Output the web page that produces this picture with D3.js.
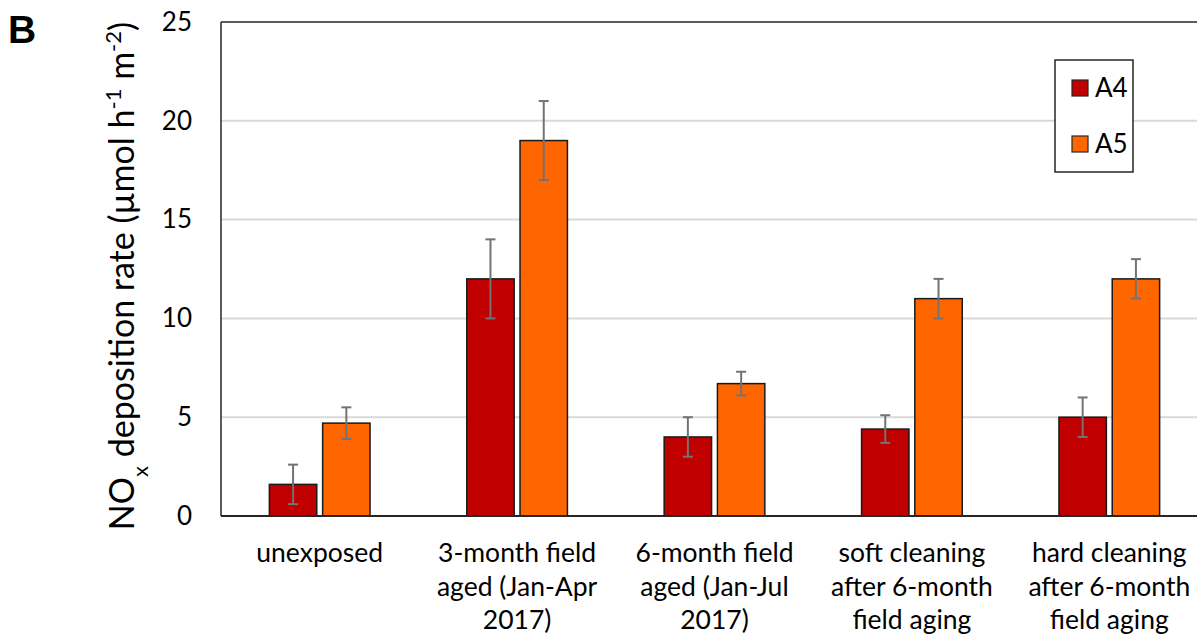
<!DOCTYPE html>
<html>
<head>
<meta charset="utf-8">
<script src="https://cdn.jsdelivr.net/npm/d3@7"></script>
<style>
  html, body { margin: 0; padding: 0; background: #fff; }
  svg { display: block; }
  text { font-family: Lato, "Open Sans", sans-serif; fill: #000; }
</style>
</head>
<body>
<svg id="chart" width="1197" height="638"></svg>
<script>
// Category labels (multi-line)
const categories = [
  ["unexposed"],
  ["3-month field", "aged (Jan-Apr", "2017)"],
  ["6-month field", "aged (Jan-Jul", "2017)"],
  ["soft cleaning", "after 6-month", "field aging"],
  ["hard cleaning", "after 6-month", "field aging"]
];
const seriesNames = ["A4", "A5"];
const seriesColors = ["#C00000", "#FF6600"];
// Mean NOx deposition rates
const valuesA4 = [1.6, 12, 4, 4.4, 5];
const valuesA5 = [4.7, 19, 6.7, 11, 12];
// Error bar half-widths
const errA4 = [1.0, 2.0, 1.0, 0.7, 1.0];
const errA5 = [0.8, 2.0, 0.6, 1.0, 1.0];
const yTicks = [0, 5, 10, 15, 20, 25];

const svg = d3.select("#chart");
const plot = { left: 221, right: 1208, top: 22, bottom: 516 };

const x0 = d3.scaleBand()
  .domain(d3.range(categories.length))
  .range([plot.left, plot.right])
  .paddingInner(0).paddingOuter(0);
const x1 = d3.scaleBand()
  .domain(seriesNames)
  .range([x0.bandwidth() * 0.245, x0.bandwidth() * 0.755])
  .paddingInner(0.11).paddingOuter(0);
const y = d3.scaleLinear().domain([0, 25]).range([plot.bottom, plot.top]);

// Gridlines
svg.append("g")
  .selectAll("line")
  .data(yTicks.filter(t => t > 0 && t < 25))
  .join("line")
  .attr("x1", plot.left).attr("x2", plot.right)
  .attr("y1", d => y(d)).attr("y2", d => y(d))
  .attr("stroke", "#d9d9d9").attr("stroke-width", 2);

// Bars
const data = [];
categories.forEach((c, i) => {
  data.push({ i, s: "A4", v: valuesA4[i], e: errA4[i], color: seriesColors[0] });
  data.push({ i, s: "A5", v: valuesA5[i], e: errA5[i], color: seriesColors[1] });
});

svg.append("g")
  .selectAll("rect")
  .data(data)
  .join("rect")
  .attr("x", d => x0(d.i) + x1(d.s))
  .attr("y", d => y(d.v))
  .attr("width", x1.bandwidth())
  .attr("height", d => y(0) - y(d.v))
  .attr("fill", d => d.color)
  .attr("stroke", "#1a1a1a")
  .attr("stroke-width", 1.5);

// Error bars
const eb = svg.append("g").attr("stroke", "#737373").attr("stroke-width", 2);
data.forEach(d => {
  const cx = x0(d.i) + x1(d.s) + x1.bandwidth() / 2;
  eb.append("line").attr("x1", cx).attr("x2", cx)
    .attr("y1", y(d.v + d.e)).attr("y2", y(d.v - d.e));
  eb.append("line").attr("x1", cx - 5).attr("x2", cx + 5)
    .attr("y1", y(d.v + d.e)).attr("y2", y(d.v + d.e));
  eb.append("line").attr("x1", cx - 5).attr("x2", cx + 5)
    .attr("y1", y(d.v - d.e)).attr("y2", y(d.v - d.e));
});

// Plot frame
svg.append("line").attr("x1", plot.left).attr("x2", plot.right)
  .attr("y1", plot.top).attr("y2", plot.top)
  .attr("stroke", "#262626").attr("stroke-width", 1.5);
svg.append("line").attr("x1", plot.left).attr("x2", plot.left)
  .attr("y1", plot.top).attr("y2", plot.bottom)
  .attr("stroke", "#262626").attr("stroke-width", 1.5);
svg.append("line").attr("x1", plot.left).attr("x2", plot.right)
  .attr("y1", plot.bottom).attr("y2", plot.bottom)
  .attr("stroke", "#262626").attr("stroke-width", 2);

// Y axis tick labels
const yAxis = d3.axisLeft(y).tickValues(yTicks).tickSize(0).tickPadding(29);
const yg = svg.append("g").attr("transform", `translate(${plot.left},0)`).call(yAxis);
yg.select(".domain").remove();
yg.selectAll("text")
  .style("font-family", "Lato, 'Open Sans', sans-serif")
  .style("font-size", "26px").attr("fill", "#000");

// X axis category labels
const xg = svg.append("g");
categories.forEach((lines, i) => {
  const t = xg.append("text")
    .attr("x", x0(i) + x0.bandwidth() / 2)
    .attr("y", 562)
    .attr("text-anchor", "middle")
    .style("font-size", "26.5px");
  lines.forEach((ln, k) => {
    t.append("tspan").attr("x", x0(i) + x0.bandwidth() / 2)
      .attr("dy", k === 0 ? 0 : 33.5).text(ln);
  });
});

// Y axis title
const yt = svg.append("text")
  .attr("transform", "translate(134,276) rotate(-90)")
  .attr("text-anchor", "middle")
  .style("font-size", "34px");
yt.append("tspan").text("NO");
yt.append("tspan").attr("baseline-shift", "sub").style("font-size", "22px").text("x");
yt.append("tspan").text(" deposition rate (µmol h");
yt.append("tspan").attr("baseline-shift", "super").style("font-size", "22px").text("-1");
yt.append("tspan").text(" m");
yt.append("tspan").attr("baseline-shift", "super").style("font-size", "22px").text("-2");
yt.append("tspan").text(")");

// Panel letter
svg.append("text").attr("x", 8).attr("y", 43)
  .style("font-family", "'Liberation Sans', Arial, sans-serif")
  .style("font-weight", "bold").style("font-size", "39px").text("B");

// Legend
const lg = svg.append("g");
lg.append("rect").attr("x", 1055).attr("y", 60).attr("width", 78).attr("height", 112)
  .attr("fill", "#fff").attr("stroke", "#262626").attr("stroke-width", 1.5);
seriesNames.forEach((s, k) => {
  const yy = 80 + k * 56;
  lg.append("rect").attr("x", 1072).attr("y", yy).attr("width", 16).attr("height", 16)
    .attr("fill", seriesColors[k]).attr("stroke", "#262626").attr("stroke-width", 1.2);
  lg.append("text").attr("x", 1095).attr("y", yy + 17).style("font-size", "26px").text(s);
});
</script>
</body>
</html>
